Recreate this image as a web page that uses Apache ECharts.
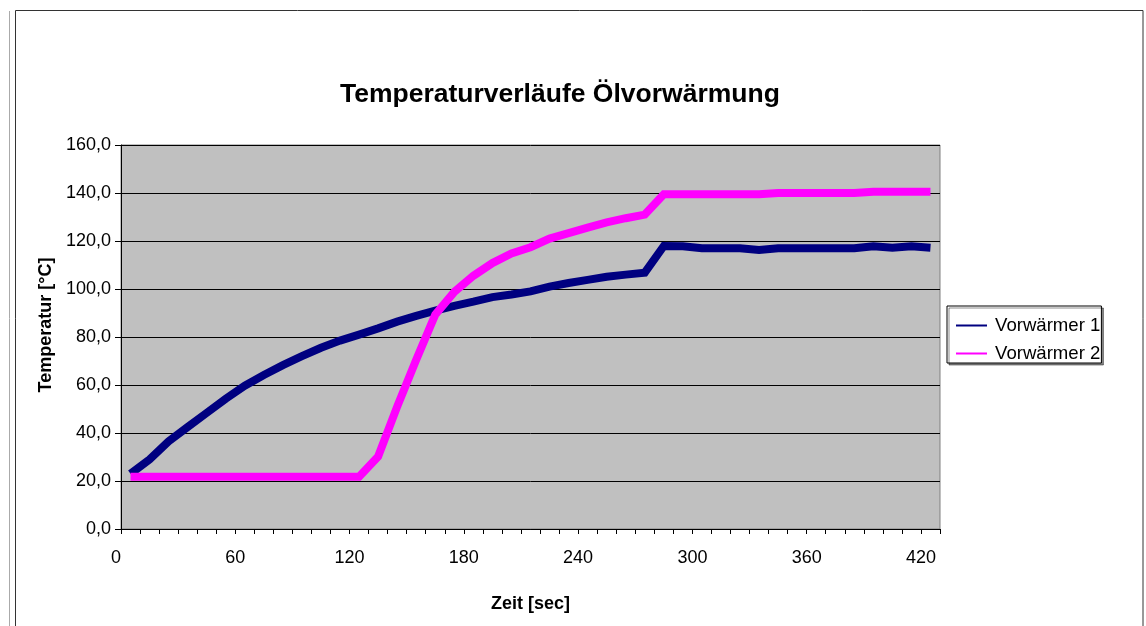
<!DOCTYPE html>
<html>
<head>
<meta charset="utf-8">
<script src="https://cdn.jsdelivr.net/npm/echarts@6/dist/echarts.min.js"></script>
<style>
html,body{margin:0;padding:0;background:#fff;}
#c{width:1146px;height:626px;}
</style>
</head>
<body>
<div id="c"></div>
<script>
// Sample times (sec): each sample occupies a 10 s band on the axis
const times = [0,10,20,30,40,50,60,70,80,90,100,110,120,130,140,150,160,170,180,190,200,
  210,220,230,240,250,260,270,280,290,300,310,320,330,340,350,360,370,380,390,400,410,420];
const vorwaermer1 = [23.0,29.0,36.5,42.5,48.4,54.3,59.7,64.2,68.3,72.0,75.5,78.5,81.0,83.6,86.4,88.8,91.0,93.0,94.7,96.6,97.7,
  99.0,101.0,102.5,103.8,105.1,106.0,106.8,117.9,117.8,117.0,117.0,117.0,116.3,117.0,117.0,117.0,117.0,117.0,117.8,117.2,117.8,117.2];
const vorwaermer2 = [21.8,21.8,21.8,21.8,21.8,21.8,21.8,21.8,21.8,21.8,21.8,21.8,21.8,30.2,51.0,70.5,89.3,98.8,105.5,110.8,114.8,
  117.4,121.0,123.3,125.6,127.8,129.5,131.0,139.5,139.5,139.5,139.5,139.5,139.5,140.0,140.0,140.0,140.0,140.0,140.5,140.5,140.5,140.5];
const seriesNames = ['Vorwärmer 1','Vorwärmer 2'];
const xTickLabels = [0,60,120,180,240,300,360,420];
const titleText = 'Temperaturverläufe Ölvorwärmung';
const xName = 'Zeit [sec]';
const yName = 'Temperatur [°C]';

const BAND = 10; // category band width in seconds; points sit in the band middle
const toPairs = vals => times.map((t, i) => [t + BAND / 2, vals[i]]);
const FONT = "'Liberation Sans', Arial, sans-serif";

const chart = echarts.init(document.getElementById('c'), null, {renderer: 'canvas'});
chart.setOption({
  animation: false,
  backgroundColor: '#fff',
  title: {
    text: titleText,
    left: 340, top: 81,
    padding: 0,
    textStyle: {fontFamily: FONT, fontSize: 26.5, fontWeight: 'bold', color: '#000'}
  },
  legend: {
    orient: 'vertical',
    left: 947, top: 306,
    padding: [10, 1, 0, 9],
    itemGap: 9,
    itemWidth: 31, itemHeight: 2,
    icon: 'rect',
    backgroundColor: '#fff',
    borderColor: '#000', borderWidth: 1,
    shadowColor: 'rgba(0,0,0,0.45)', shadowOffsetX: 2, shadowOffsetY: 2, shadowBlur: 0,
    textStyle: {fontFamily: FONT, fontSize: 18.6, color: '#000', padding: [0, 0, 0, 3]},
    data: seriesNames
  },
  grid: {
    left: 121, right: 206, top: 145, bottom: 97,
    show: true, backgroundColor: '#C0C0C0', borderColor: '#808080', borderWidth: 1
  },
  xAxis: {
    type: 'value', min: 0, max: 430, interval: 10,
    name: xName, nameLocation: 'middle', nameGap: 66,
    nameTextStyle: {fontFamily: FONT, fontSize: 18, fontWeight: 'bold', color: '#000'},
    axisLine: {show: true, lineStyle: {color: '#000', width: 1}},
    axisTick: {show: true, inside: false, length: 5, lineStyle: {color: '#000'}},
    splitLine: {show: false},
    axisLabel: {
      fontFamily: FONT, fontSize: 18, color: '#000', margin: 20,
      alignMinLabel: 'right',
      formatter: v => xTickLabels.indexOf(v) >= 0 ? String(v) : ''
    }
  },
  yAxis: {
    type: 'value', min: 0, max: 160, interval: 20,
    name: yName, nameLocation: 'middle', nameGap: 66,
    nameTextStyle: {fontFamily: FONT, fontSize: 18, fontWeight: 'bold', color: '#000', padding: [0, 0, 0, 24]},
    axisLine: {show: true, lineStyle: {color: '#000', width: 1}},
    axisTick: {show: true, inside: false, length: 6, lineStyle: {color: '#000'}},
    splitLine: {show: true, lineStyle: {color: '#000', width: 1}},
    axisLabel: {
      fontFamily: FONT, fontSize: 18, color: '#000', margin: 10,
      formatter: v => v.toFixed(1).replace('.', ',')
    }
  },
  series: [
    {
      name: seriesNames[0], type: 'line', symbol: 'none', smooth: false,
      data: toPairs(vorwaermer1),
      itemStyle: {color: '#000080'},
      lineStyle: {color: '#000080', width: 8, cap: 'butt', join: 'miter'},
      z: 2
    },
    {
      name: seriesNames[1], type: 'line', symbol: 'none', smooth: false,
      data: toPairs(vorwaermer2),
      itemStyle: {color: '#FF00FF'},
      lineStyle: {color: '#FF00FF', width: 8, cap: 'butt', join: 'miter'},
      z: 3
    }
  ],
  graphic: [
    {type: 'rect', shape: {x: 15.5, y: 10.5, width: 1127.5, height: 640}, style: {fill: 'none', stroke: '#333', lineWidth: 1}, silent: true},
    {type: 'line', shape: {x1: 9.5, y1: 11, x2: 9.5, y2: 626}, style: {stroke: '#aaa', lineWidth: 1}, silent: true}
  ]
});
</script>
</body>
</html>
